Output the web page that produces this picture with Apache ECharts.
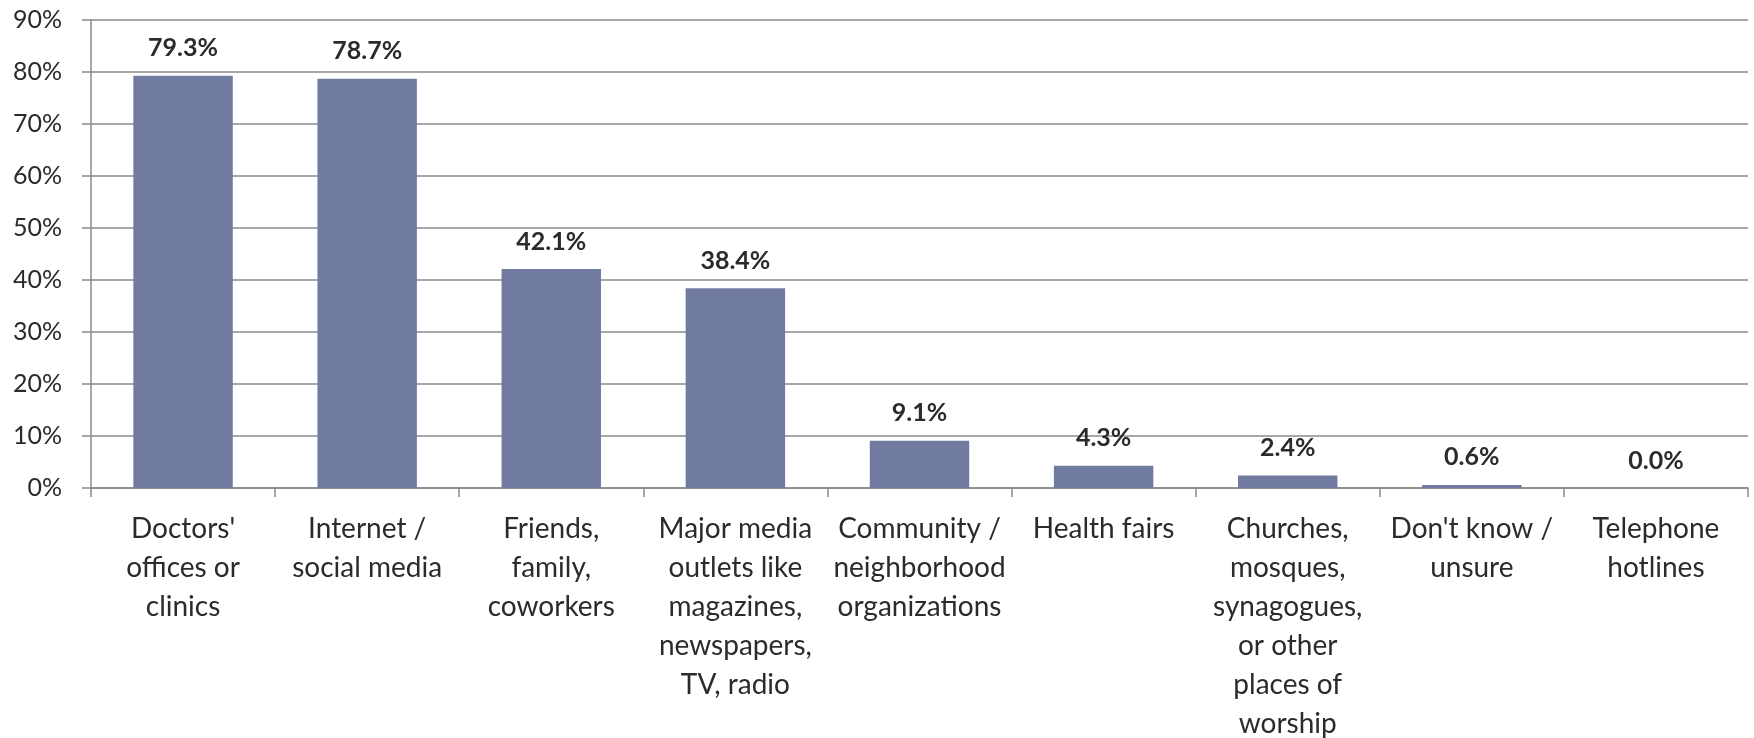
<!DOCTYPE html>
<html>
<head>
<meta charset="utf-8">
<script src="https://cdn.jsdelivr.net/npm/echarts@6/dist/echarts.min.js"></script>
<style>
  html, body { margin: 0; padding: 0; background: #ffffff; }
  #chart { width: 1754px; height: 738px; }
</style>
</head>
<body>
<div id="chart"></div>
<script>
// Sources of health information (share of respondents)
const categories = [
  "Doctors'\noffices or\nclinics",
  "Internet /\nsocial media",
  "Friends,\nfamily,\ncoworkers",
  "Major media\noutlets like\nmagazines,\nnewspapers,\nTV, radio",
  "Community /\nneighborhood\norganizations",
  "Health fairs",
  "Churches,\nmosques,\nsynagogues,\nor other\nplaces of\nworship",
  "Don't know /\nunsure",
  "Telephone\nhotlines"
];
const shares = [79.3, 78.7, 42.1, 38.4, 9.1, 4.3, 2.4, 0.6, 0.0];
const yMin = 0;
const yMax = 90;
const yStep = 10;

const FONT = 'Lato, "Open Sans", sans-serif';
const TEXT = '#2b2b2b';
const LINE = '#8a8a8a';

const chart = echarts.init(document.getElementById('chart'));
chart.setOption({
  animation: false,
  backgroundColor: '#ffffff',
  grid: {
    left: 91, right: 6, top: 20, bottom: 250,
    containLabel: false,
    outerBoundsMode: 'none'
  },
  xAxis: {
    type: 'category',
    data: categories,
    axisLine: { show: true, lineStyle: { color: LINE, width: 1.5 } },
    axisTick: { show: true, length: 9, lineStyle: { color: LINE, width: 1.5 } },
    axisLabel: {
      interval: 0,
      margin: 21,
      color: TEXT,
      fontFamily: FONT,
      fontSize: 28,
      lineHeight: 39,
      align: 'center'
    }
  },
  yAxis: {
    type: 'value',
    min: yMin,
    max: yMax,
    interval: yStep,
    axisLine: { show: true, lineStyle: { color: LINE, width: 1.5 } },
    axisTick: { show: true, length: 9, lineStyle: { color: LINE, width: 1.5 } },
    splitLine: { show: true, lineStyle: { color: LINE, width: 1.5 } },
    axisLabel: {
      margin: 29,
      color: TEXT,
      fontFamily: FONT,
      fontSize: 25,
      formatter: '{value}%'
    }
  },
  series: [{
    type: 'bar',
    data: shares,
    barWidth: '54%',
    itemStyle: { color: '#717ba1' },
    label: {
      show: true,
      position: 'top',
      distance: 15,
      color: TEXT,
      fontFamily: FONT,
      fontWeight: 'bold',
      fontSize: 25,
      formatter: p => p.value.toFixed(1) + '%'
    }
  }]
});
</script>
</body>
</html>
